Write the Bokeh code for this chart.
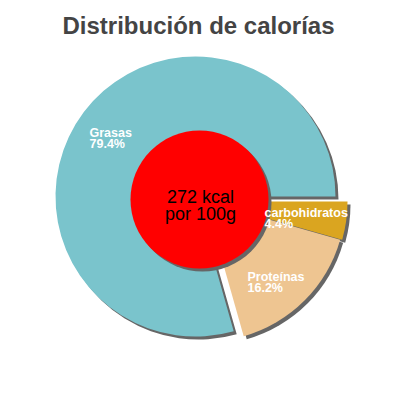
import math
from bokeh.plotting import figure
from bokeh.models import Range1d
from bokeh.core.properties import value
from bokeh.embed import file_html
from bokeh.resources import INLINE

# ---- data ----
title_text = "Distribución de calorías"
labels = ["Grasas", "Proteínas", "carbohidratos"]
values = [79.4, 16.2, 4.4]
colors = ["#7AC4CC", "#EEC591", "#DAA520"]
center_lines = ["272 kcal", "por 100g"]

# ---- layout (pixel coordinates of the 400x400 picture) ----
FONT = "Liberation Sans"
P = lambda px, py: (px, 400 - py)  # picture pixel -> data

p = figure(width=384, height=384, x_range=Range1d(0, 384), y_range=Range1d(16, 400),
           toolbar_location=None, output_backend="svg", min_border=0,
           x_axis_location=None, y_axis_location=None)
p.grid.visible = False
p.outline_line_color = None
p.background_fill_color = "white"

cx, cy = P(195, 196)
R = 140
explode = [(0, 0), (10, 5), (12, 5)]     # pixel offsets (right, down)
shadow = (3, 3)
shadow_color = "#666666"

total = sum(values)
starts, ends = [], []
acc = 0.0
for v in values:
    starts.append(2 * math.pi * acc / total)
    acc += v
    ends.append(2 * math.pi * acc / total)

# shadows
for i in range(len(values)):
    ex, ey = explode[i]
    p.wedge(x=cx + ex + shadow[0], y=cy - ey - shadow[1], radius=R,
            start_angle=starts[i], end_angle=ends[i],
            fill_color=shadow_color, line_color=None)
# slices
for i in range(len(values)):
    ex, ey = explode[i]
    p.wedge(x=cx + ex, y=cy - ey, radius=R,
            start_angle=starts[i], end_angle=ends[i],
            fill_color=colors[i], line_color=None)

# centre disc
rx, ry = P(199, 199)
p.circle(x=rx + 3, y=ry - 3, radius=69, fill_color=shadow_color, line_color=None)
p.circle(x=rx, y=ry, radius=69, fill_color="#FF0000", line_color=None)

# centre texts
for line, by in zip(center_lines, [196, 213]):
    tx, ty = P(200, by)
    p.text(x=[tx], y=[ty], text=[line], text_font=value(FONT), text_font_size="18px",
           text_color="black", text_align="center", text_baseline="alphabetic")

# slice labels
anchors = [(89, 132), (247, 276), (264, 212)]
for lab, v, (ax, ay) in zip(labels, values, anchors):
    for k, s in enumerate([lab, f"{v}%"]):
        tx, ty = P(ax, ay + 11.5 * k)
        p.text(x=[tx], y=[ty], text=[s], text_font=value(FONT), text_font_size="12.5px",
               text_font_style="bold", text_color="white", text_align="left",
               text_baseline="alphabetic")

# title
tx, ty = P(198, 25)
p.text(x=[tx], y=[ty], text=[title_text], text_font=value(FONT), text_font_size="24px",
       text_font_style="bold", text_color="#444444", text_align="center",
       text_baseline="alphabetic")

open("out.html", "w").write(file_html(p, INLINE))
